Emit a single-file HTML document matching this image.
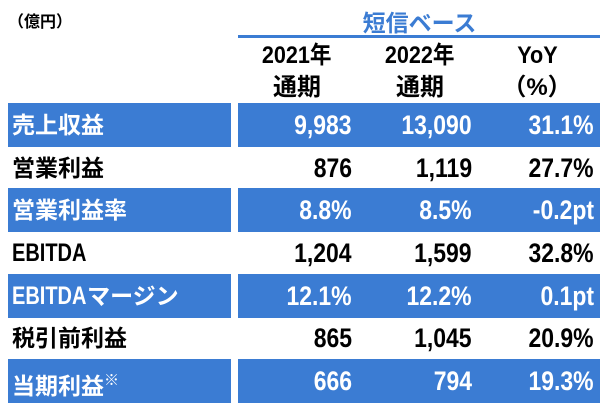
<!DOCTYPE html>
<html><head><meta charset="utf-8"><style>
body{margin:0;width:605px;height:410px;background:#fff;position:relative;overflow:hidden;font-family:"Liberation Sans","Noto Sans CJK JP",sans-serif;font-weight:bold}
.a{position:absolute;white-space:nowrap}
.blue{background:#3b7cd3}
.lbl{font-size:23px;left:12px}
.lat{display:inline-block;transform:scaleX(0.8);transform-origin:left center;margin-right:-18px;font-size:25px}
.v{font-size:27px;text-align:right;transform-origin:right center;transform:scaleX(0.85)}
.h{font-size:24px;text-align:center;line-height:32px}
.h span{display:inline-block;transform:scaleX(0.9)}
</style></head><body>
<div class="a" style="left:8px;top:8px;font-size:16px">（億円）</div>
<div class="a" style="left:239px;width:361px;top:4px;text-align:center;font-size:23px;color:#3b7cd3">短信ベース</div>
<div class="a" style="left:238px;width:362px;top:35px;height:3px;background:#3b7cd3"></div>
<div class="a h" style="left:237px;width:120px;top:40px"><span>2021年</span><br>通期</div>
<div class="a h" style="left:360px;width:120px;top:40px"><span>2022年</span><br>通期</div>
<div class="a h" style="left:477px;width:120px;top:40px"><span>YoY</span><br>（%）</div>
<div id="rows"></div>
<script>
const labels=["売上収益","営業利益","営業利益率","EBITDA","EBITDAマージン","税引前利益","当期利益"];
const v2021=["9,983","876","8.8%","1,204","12.1%","865","666"];
const v2022=["13,090","1,119","8.5%","1,599","12.2%","1,045","794"];
const yoy=["31.1%","27.7%","-0.2pt","32.8%","0.1pt","20.9%","19.3%"];
const root=document.body;
labels.forEach((l,i)=>{
  const top=103+i*42.67, blue=i%2===0, col=blue?'#fff':'#000';
  if(blue){
    const a=document.createElement('div');a.className='a blue';
    
    
    a.style.cssText=`left:8px;width:223px;top:${top}px;height:44px`;root.appendChild(a);
    const b=document.createElement('div');b.className='a blue';
    
    
    b.style.cssText=`left:238px;width:362px;top:${top}px;height:44px`;root.appendChild(b);
  }
  const t=document.createElement('div');t.className='a lbl';
  
  
  t.style.cssText+=`top:${top}px;line-height:44px;color:${col}`;
  let html=l.replace('EBITDA','<span class="lat">EBITDA</span>');
  t.innerHTML=html+(i===6?'<sup style="font-size:15px;vertical-align:9px">※</sup>':'');
  root.appendChild(t);
  [[v2021[i],352],[v2022[i],472],[yoy[i],594]].forEach(([v,r],j)=>{
    const c=document.createElement('div');c.className='a v';
    
    
    c.style.cssText+=`right:${605-r}px;top:${top}px;line-height:44px;color:${col}`;
    c.textContent=v;root.appendChild(c);
  });
});
</script>
</body></html>
